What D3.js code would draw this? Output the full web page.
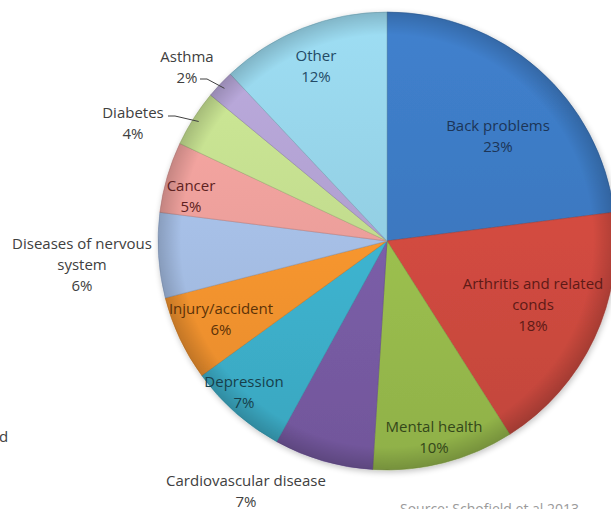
<!DOCTYPE html>
<html><head><meta charset="utf-8">
<script src="https://cdn.jsdelivr.net/npm/d3@7"></script>
<style>html,body{margin:0;padding:0;background:#fff;overflow:hidden}</style>
</head><body>
<svg id="c" width="611" height="509"></svg>
<script>
const categories = ["Back problems","Arthritis and related conds","Mental health","Cardiovascular disease","Depression","Injury/accident","Diseases of nervous system","Cancer","Diabetes","Asthma","Other"];
const values = [23,18,10,7,7,6,6,5,4,2,12];
const colors = ["#3c78c0","#d24b40","#9cc04f","#7b5ea8","#3eb4d0","#f7962f","#a6bfe6","#ec9f9b","#c2dc8e","#b0a0d0","#93cfe3"];
const labelLines = [["Back problems","23%"],["Arthritis and related","conds","18%"],["Mental health","10%"],["Cardiovascular disease","7%"],["Depression","7%"],["Injury/accident","6%"],["Diseases of nervous","system","6%"],["Cancer","5%"],["Diabetes","4%"],["Asthma","2%"],["Other","12%"]];

// layout (label anchor = first line baseline centre)
const layout = {
  "Back problems":{x:498,y:131,c:"#1c3557"},
  "Arthritis and related conds":{x:533,y:289,c:"#5e1a16"},
  "Mental health":{x:434,y:432,c:"#34471a"},
  "Cardiovascular disease":{x:246,y:486,c:"#404040"},
  "Depression":{x:244,y:387,c:"#173f4b"},
  "Injury/accident":{x:221,y:314,c:"#5c3208"},
  "Diseases of nervous system":{x:82,y:249,c:"#404040"},
  "Cancer":{x:191,y:191,c:"#5e2222"},
  "Diabetes":{x:133,y:118,c:"#404040",lead:[[168,116],[175,116]]},
  "Asthma":{x:187,y:62,c:"#404040",lead:[[200,79],[207,79]]},
  "Other":{x:316,y:61,c:"#234a66"}
};

const cx=387, cy=241, R=229;
const svg=d3.select("#c");
const defs=svg.append("defs");
const data=categories.map((k,i)=>({name:k,value:values[i],color:colors[i],lines:labelLines[i]}));
const pie=d3.pie().value(d=>d.value).sort(null);
const arc=d3.arc().innerRadius(0).outerRadius(R);
const arcs=pie(data);

arcs.forEach((a,i)=>{
  const g=defs.append("linearGradient").attr("id","g"+i).attr("gradientUnits","userSpaceOnUse")
    .attr("x1",0).attr("y1",-R).attr("x2",0).attr("y2",R);
  const c=d3.color(a.data.color);
  g.append("stop").attr("offset",0).attr("stop-color",d3.color(c).brighter(0.2));
  g.append("stop").attr("offset",0.5).attr("stop-color",c);
  g.append("stop").attr("offset",1).attr("stop-color",d3.color(c).darker(0.25));
});
const rim=defs.append("radialGradient").attr("id","rim").attr("gradientUnits","userSpaceOnUse")
  .attr("cx",0).attr("cy",0).attr("r",R);
rim.append("stop").attr("offset",0).attr("stop-color","#000").attr("stop-opacity",0);
rim.append("stop").attr("offset",0.9).attr("stop-color","#000").attr("stop-opacity",0);
rim.append("stop").attr("offset",1).attr("stop-color","#000").attr("stop-opacity",0.18);

const shadow=defs.append("filter").attr("id","sh").attr("x","-10%").attr("y","-10%").attr("width","120%").attr("height","120%");
shadow.append("feGaussianBlur").attr("in","SourceAlpha").attr("stdDeviation",3);
shadow.append("feOffset").attr("dx",1).attr("dy",2).attr("result","b");
shadow.append("feComponentTransfer").append("feFuncA").attr("type","linear").attr("slope",0.25);
const fm=shadow.append("feMerge");fm.append("feMergeNode");fm.append("feMergeNode").attr("in","SourceGraphic");

const G=svg.append("g").attr("transform",`translate(${cx},${cy})`);
const P=G.append("g").attr("filter","url(#sh)");
P.selectAll("path").data(arcs).join("path")
  .attr("d",arc)
  .attr("fill",(d,i)=>`url(#g${i})`)
  .attr("stroke",d=>d3.color(d.data.color).darker(0.6))
  .attr("stroke-width",0.8)
  .attr("stroke-opacity",0.7);
G.append("circle").attr("r",R).attr("fill","url(#rim)").attr("pointer-events","none");

const font="'Open Sans', 'Noto Sans', sans-serif";
arcs.forEach(a=>{
  const L=layout[a.data.name];
  const t=svg.append("text").attr("text-anchor","middle").attr("font-family",font)
    .attr("font-size",15).attr("fill",L.c);
  a.data.lines.forEach((ln,j)=>{
    t.append("tspan").attr("x",L.x).attr("y",L.y+j*21).text(ln);
  });
  if(L.lead){
    const m=(a.startAngle+a.endAngle)/2;
    const ex=cx+Math.sin(m)*(R-6), ey=cy-Math.cos(m)*(R-6);
    const pts=[...L.lead,[ex,ey]];
    svg.append("path").attr("d",d3.line()(pts)).attr("fill","none").attr("stroke","#404040").attr("stroke-width",1);
  }
});

svg.append("text").attr("x",400).attr("y",514).attr("font-family",font).attr("font-size",14)
  .attr("fill","#9a9a9a").text("Source: Schofield et al 2013");
svg.append("text").attr("x",-1).attr("y",442).attr("font-family",font).attr("font-size",15)
  .attr("fill","#404040").text("d");
</script>
</body></html>
